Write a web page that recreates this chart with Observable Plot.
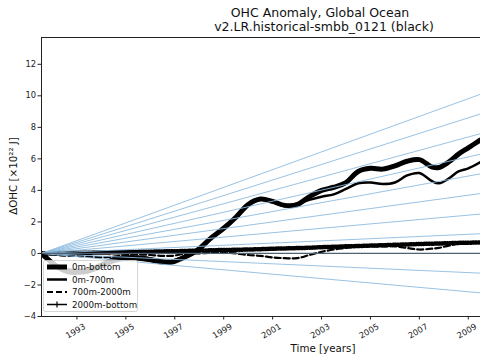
<!DOCTYPE html>
<html>
<head>
<meta charset="utf-8">
<script src="https://cdn.jsdelivr.net/npm/d3@7"></script>
<script src="https://cdn.jsdelivr.net/npm/@observablehq/plot@0.6"></script>
<style>
  html, body { margin: 0; padding: 0; background: #fff; overflow: hidden; }
  #chart { position: relative; width: 480px; height: 360px; }
</style>
</head>
<body>
<div id="chart"></div>
<script>
// ---- data ----
const years = [1991.55,1991.8,1992.2,1992.6,1993.0,1993.5,1994.0,1994.5,1995.0,1995.5,
  1996.0,1996.5,1996.9,1997.3,1997.7,1998.0,1998.5,1999.0,1999.5,2000.0,
  2000.5,2001.0,2001.5,2002.0,2002.5,2003.0,2003.5,2004.0,2004.5,2005.0,
  2005.5,2006.0,2006.5,2007.0,2007.5,2007.8,2008.2,2008.6,2009.0,2009.5];
const ohc0mBottom = [0,-0.35,-0.85,-1.15,-1.2,-1.1,-0.8,-0.45,-0.3,-0.3,
  -0.4,-0.55,-0.55,-0.3,0.0,0.3,1.0,1.6,2.3,3.1,
  3.45,3.3,3.05,3.1,3.6,4.0,4.2,4.5,5.2,5.4,
  5.35,5.55,5.85,5.95,5.5,5.45,5.8,6.3,6.7,7.2];
const ohc0m700m = [0,-0.3,-0.75,-1.0,-1.05,-0.95,-0.65,-0.3,-0.2,-0.2,
  -0.3,-0.45,-0.45,-0.25,0.0,0.3,1.0,1.6,2.3,3.05,
  3.4,3.25,3.0,3.15,3.4,3.6,3.75,4.1,4.45,4.5,
  4.4,4.5,4.95,5.1,4.6,4.45,4.75,5.2,5.4,5.8];
const ohc700m2000m = [0,-0.05,-0.1,-0.15,-0.15,-0.2,-0.25,-0.2,-0.1,-0.05,
  -0.1,-0.15,-0.15,-0.05,0.0,0.0,0.05,0.05,0.0,-0.1,
  -0.15,-0.25,-0.3,-0.3,-0.1,0.1,0.25,0.35,0.45,0.45,
  0.45,0.45,0.35,0.25,0.3,0.35,0.5,0.6,0.65,0.7];
const ohc2000mBottom = [0,0.0,0.02,0.03,0.04,0.05,0.06,0.07,0.08,0.1,
  0.11,0.13,0.14,0.15,0.17,0.18,0.2,0.22,0.23,0.25,
  0.27,0.3,0.32,0.34,0.36,0.4,0.42,0.45,0.47,0.5,
  0.52,0.55,0.57,0.6,0.62,0.63,0.65,0.67,0.68,0.7];
// reference heating-rate lines: values reached at refYear, starting from 0 at start year
const refYear = 2009.5;
const refEnd = [-2.5,-1.25,1.25,2.5,3.8,5.05,6.3,7.6,8.85,10.1];
const xTicks = [1993,1995,1997,1999,2001,2003,2005,2007,2009];
const yTicks = [-4,-2,0,2,4,6,8,10,12];
const seriesNames = ["0m-bottom","0m-700m","700m-2000m","2000m-bottom"];

// ---- build ----
const t0 = years[0];
const mk = v => years.map((t, i) => ({t, v: v[i]}));
const sBottom = mk(ohc0mBottom), s700 = mk(ohc0m700m), s2000 = mk(ohc700m2000m), sDeep = mk(ohc2000mBottom);
const refLines = refEnd.map((e, k) => [{t: t0, v: 0, k}, {t: refYear, v: e, k}]).flat();

const font = "DejaVu Sans, sans-serif";
const curve = "catmull-rom";
const plot = Plot.plot({
  width: 480, height: 360,
  marginTop: 37, marginBottom: 44, marginLeft: 41, marginRight: 0,
  style: {fontFamily: font, fontSize: "8.3px", color: "#222", background: "white"},
  x: {domain: [t0, refYear]},
  y: {domain: [-4, 13.7]},
  marks: [
    Plot.line(sDeep, {x: "t", y: "v", stroke: "black", strokeWidth: 1.5, curve, clip: true}),
    Plot.line(sDeep, {x: "t", y: "v", stroke: "black", strokeWidth: 4.5, strokeDasharray: "1,1.6", curve: "linear", clip: true}),
    Plot.line(s2000, {x: "t", y: "v", stroke: "black", strokeWidth: 2.2, strokeDasharray: "6,3", curve, clip: true}),
    Plot.line(s700, {x: "t", y: "v", stroke: "black", strokeWidth: 2.5, curve, clip: true}),
    Plot.line(sBottom, {x: "t", y: "v", stroke: "black", strokeWidth: 5, curve, clip: true}),
    Plot.line(refLines, {x: "t", y: "v", z: "k", stroke: "#8dbbe0", strokeWidth: 0.9, clip: true}),
    Plot.ruleY([0], {stroke: "#4f6172", strokeWidth: 1.2}),
    Plot.ruleX([t0], {stroke: "#222", strokeWidth: 1}),
    Plot.ruleY([-4, 13.7], {stroke: "#222", strokeWidth: 1}),
    Plot.axisY({ticks: yTicks, tickSize: 3.5, tickPadding: 2, label: null, tickFormat: d => d < 0 ? "\u2212" + Math.abs(d) : String(d)}),
    Plot.axisX({ticks: xTicks, tickSize: 3.5, label: null, tickFormat: () => ""}),
    Plot.text(xTicks, {x: d => d, frameAnchor: "bottom", dy: 17, rotate: -30, textAnchor: "middle", text: d => String(d), fontSize: 8.3})
  ]
});
document.getElementById("chart").appendChild(plot);

// ---- titles, labels, legend ----
const svg = d3.select(plot);
const t = svg.append("g").attr("font-family", font).attr("fill", "#111");
t.append("text").attr("x", 320).attr("y", 17).attr("text-anchor", "middle").attr("font-size", 12.5).text("OHC Anomaly, Global Ocean");
t.append("text").attr("x", 324).attr("y", 31).attr("text-anchor", "middle").attr("font-size", 12.5).text("v2.LR.historical-smbb_0121 (black)");
t.append("text").attr("x", 323).attr("y", 352).attr("text-anchor", "middle").attr("font-size", 10.3).text("Time [years]");
t.append("text").attr("transform", "translate(17,176) rotate(-90)").attr("text-anchor", "middle").attr("font-size", 10.3).text("\u0394OHC [\u00d710\u00b2\u00b2 J]");

const lg = svg.append("g").attr("font-family", font).attr("text-anchor", "start");
lg.append("rect").attr("x", 43.5).attr("y", 260.5).attr("width", 94).attr("height", 51).attr("rx", 2)
  .attr("fill", "white").attr("fill-opacity", 0.8).attr("stroke", "#cccccc").attr("stroke-width", 0.8);
const rowsY = [267, 279.5, 292, 304.5];
const styles = [
  {w: 5, dash: null},
  {w: 2.5, dash: null},
  {w: 2.2, dash: "6,3"},
  {w: 1.5, dash: null}
];
seriesNames.forEach((name, i) => {
  const y = rowsY[i];
  lg.append("line").attr("x1", 47).attr("x2", 67).attr("y1", y).attr("y2", y)
    .attr("stroke", "black").attr("stroke-width", styles[i].w).attr("stroke-dasharray", styles[i].dash);
  if (i === 3) {
    lg.append("line").attr("x1", 57).attr("x2", 57).attr("y1", y - 3).attr("y2", y + 3).attr("stroke", "black").attr("stroke-width", 1.2);
  }
  lg.append("text").attr("x", 72).attr("y", y + 3).attr("text-anchor", "start").attr("font-size", 8.7).attr("fill", "#111").text(name);
});
</script>
</body>
</html>
